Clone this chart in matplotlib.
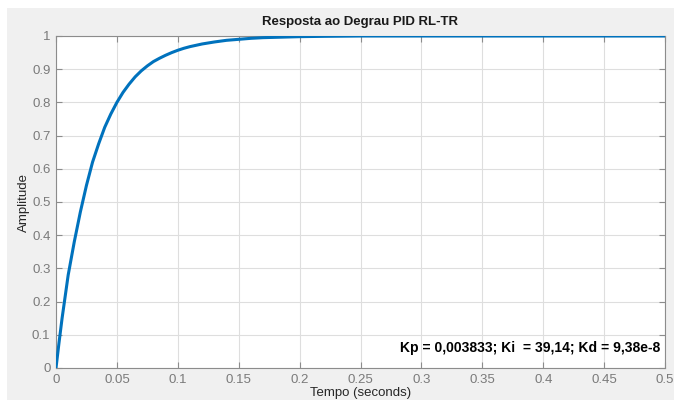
import matplotlib
matplotlib.use("Agg")
import matplotlib.pyplot as plt
from matplotlib.patches import Rectangle

plt.rcParams['font.family'] = ['Liberation Sans', 'DejaVu Sans']

# Step response
t = [0, 0.0025, 0.005, 0.0075, 0.01, 0.015, 0.02, 0.025, 0.03, 0.035, 0.04, 0.045, 0.05,
     0.055, 0.06, 0.065, 0.07, 0.075, 0.08, 0.085, 0.09, 0.095, 0.1, 0.105, 0.11, 0.115,
     0.12, 0.13, 0.14, 0.15, 0.16, 0.17, 0.18, 0.2, 0.22, 0.25, 0.3, 0.4, 0.5]
amplitude = [0, 0.077, 0.15, 0.215, 0.28, 0.38, 0.47, 0.55, 0.62, 0.675, 0.725, 0.765, 0.80,
             0.83, 0.855, 0.877, 0.895, 0.91, 0.923, 0.933, 0.942, 0.950, 0.957, 0.963, 0.968, 0.972,
             0.976, 0.982, 0.987, 0.990, 0.993, 0.995, 0.996, 0.998, 0.999, 1.0, 1.0, 1.0, 1.0]

xticks = [0, 0.05, 0.1, 0.15, 0.2, 0.25, 0.3, 0.35, 0.4, 0.45, 0.5]
xticklabels = ['0', '0.05', '0.1', '0.15', '0.2', '0.25', '0.3', '0.35', '0.4', '0.45', '0.5']
yticks = [0, 0.1, 0.2, 0.3, 0.4, 0.5, 0.6, 0.7, 0.8, 0.9, 1]
yticklabels = ['0', '0.1', '0.2', '0.3', '0.4', '0.5', '0.6', '0.7', '0.8', '0.9', '1']

title = 'Resposta ao Degrau PID RL-TR'
xlabel = 'Tempo (seconds)'
ylabel = 'Amplitude'
note = 'Kp = 0,003833; Ki  = 39,14; Kd = 9,38e-8'

W, H = 674, 408
fig = plt.figure(figsize=(W / 100, H / 100), dpi=100)
fig.patch.set_facecolor('white')
bg = Rectangle((7 / W, 1 - 400 / H), (W - 7) / W, (400 - 8) / H,
               transform=fig.transFigure, facecolor='#f0f0f0',
               edgecolor='none', zorder=-10)
fig.patches.append(bg)

ax = fig.add_axes([56 / W, 1 - 368 / H, (665 - 56) / W, (368 - 36) / H])
ax.set_zorder(1)
ax.set_facecolor('white')
ax.plot(t, amplitude, color='#0072BD', linewidth=2.2, zorder=3)

ax.set_xlim(0, 0.5)
ax.set_ylim(0, 1)
ax.set_xticks(xticks)
ax.set_xticklabels(xticklabels)
ax.set_yticks(yticks)
ax.set_yticklabels(yticklabels)

ax.grid(True, color='#dedede', linewidth=0.8)
ax.set_axisbelow(True)
for s in ax.spines.values():
    s.set_color('#8c8c8c')
    s.set_linewidth(0.8)
ax.tick_params(direction='in', length=4, color='#8c8c8c', labelcolor='#7a7a7a',
               labelsize=9.5, top=True, right=True, pad=4)

ax.set_title(title, fontsize=9.5, fontweight='bold', color='#1a1a1a', pad=8)
ax.set_xlabel(xlabel, fontsize=9.5, color='#262626')
ax.set_ylabel(ylabel, fontsize=9.5, color='#262626')
ax.xaxis.set_label_coords(0.5, -0.075)
ax.yaxis.set_label_coords(-0.052, 0.5)
ax.yaxis.label.set_va('center')
ax.xaxis.label.set_va('center')

ax.text(0.496, 0.04, note, transform=ax.transData, ha='right', va='bottom',
        fontsize=10, fontweight='bold', color='black', zorder=4)

fig.savefig('out.png', dpi=100, facecolor=fig.get_facecolor())
